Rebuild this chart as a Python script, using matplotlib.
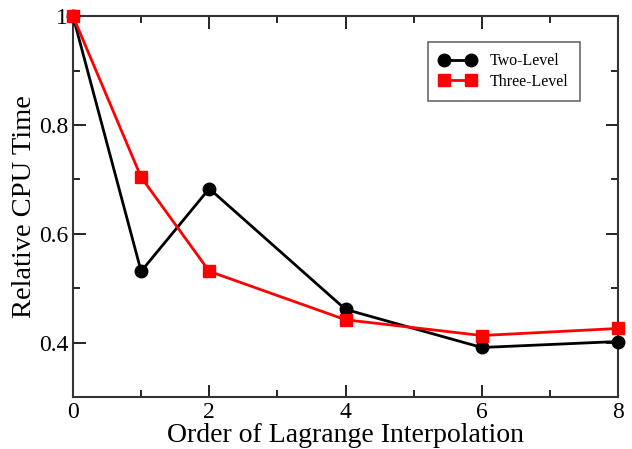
import matplotlib
matplotlib.use("Agg")
import matplotlib.pyplot as plt
from matplotlib.ticker import MultipleLocator

plt.rcParams['font.family'] = ['Liberation Serif', 'DejaVu Serif']

order = [0, 1, 2, 4, 6, 8]
two_level = [1.0, 0.531, 0.683, 0.461, 0.391, 0.402]
three_level = [1.0, 0.704, 0.531, 0.442, 0.413, 0.426]
yticks = [0.4, 0.6, 0.8, 1.0]
ytick_labels = ["0.4", "0.6", "0.8", "1"]
xticks = [0, 2, 4, 6, 8]

fig = plt.figure(figsize=(6.32, 4.49), dpi=100)
ax = fig.add_axes([0.1155, 0.1158, 0.8625, 0.8482])

ax.plot(order, two_level, color='black', lw=2, marker='o', ms=9, label='Two-Level', clip_on=False, zorder=3)
ax.plot(order, three_level, color='#ff0000', lw=2, marker='s', ms=8, label='Three-Level', clip_on=False, zorder=4)

ax.set_xlim(0, 8)
ax.set_ylim(0.3, 1.0)
ax.set_xticks(xticks)
ax.set_yticks(yticks)
ax.set_yticklabels(ytick_labels)
ax.xaxis.set_minor_locator(MultipleLocator(1))
ax.yaxis.set_minor_locator(MultipleLocator(0.1))
ax.tick_params(which='both', direction='in', top=True, right=True, labelsize=17, width=1.2)
ax.tick_params(which='major', length=9)
ax.tick_params(which='minor', length=5)
for s in ax.spines.values():
    s.set_linewidth(1.5)
    s.set_color('#333333')

ax.set_xlabel('Order of Lagrange Interpolation', fontsize=20, labelpad=0)
ax.set_ylabel('Relative CPU Time', fontsize=20.5, labelpad=1)

leg = ax.legend(loc='upper right', bbox_to_anchor=(0.93, 0.932), borderaxespad=0,
                fontsize=11.5, fancybox=False, numpoints=2,
                edgecolor='#444444', handlelength=2.3, handletextpad=0.9,
                borderpad=0.7, labelspacing=0.3)
leg.get_frame().set_linewidth(1.2)

fig.savefig('out.png', dpi=100)
